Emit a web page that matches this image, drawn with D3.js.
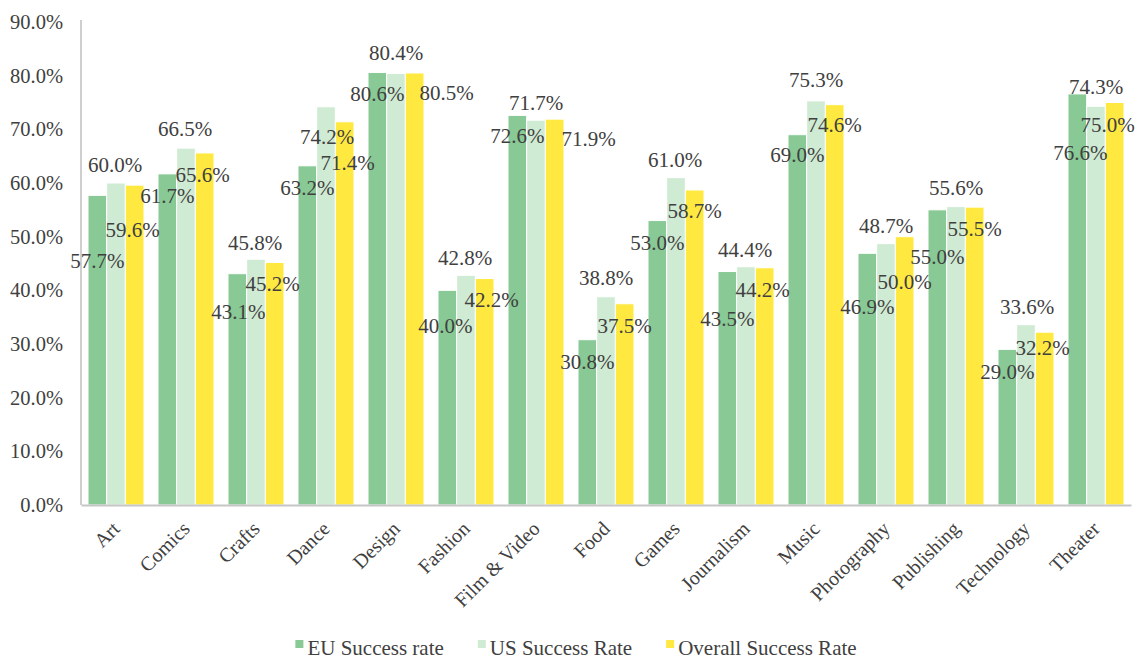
<!DOCTYPE html>
<html>
<head>
<meta charset="utf-8">
<script src="https://cdn.jsdelivr.net/npm/d3@7"></script>
<style>
  html, body { margin: 0; padding: 0; background: #ffffff; }
  svg { display: block; }
</style>
</head>
<body>
<svg id="chart" width="1137" height="659" font-family="'Liberation Serif', Tinos, 'Times New Roman', 'DejaVu Serif', serif"></svg>
<script>
// Success rate by project category
const categories = ["Art", "Comics", "Crafts", "Dance", "Design", "Fashion", "Film & Video",
  "Food", "Games", "Journalism", "Music", "Photography", "Publishing", "Technology", "Theater"];
const euRate      = [57.7, 61.7, 43.1, 63.2, 80.6, 40.0, 72.6, 30.8, 53.0, 43.5, 69.0, 46.9, 55.0, 29.0, 76.6];
const usRate      = [60.0, 66.5, 45.8, 74.2, 80.4, 42.8, 71.7, 38.8, 61.0, 44.4, 75.3, 48.7, 55.6, 33.6, 74.3];
const overallRate = [59.6, 65.6, 45.2, 71.4, 80.5, 42.2, 71.9, 37.5, 58.7, 44.2, 74.6, 50.0, 55.5, 32.2, 75.0];
const seriesNames = ["EU Success rate", "US Success Rate", "Overall Success Rate"];
const yTicks = [0, 10, 20, 30, 40, 50, 60, 70, 80, 90];

// Label placement (pixel offsets of each value label from its bar top / bar centre)
const euLabelDy      = [65, 22, 38, 22, 21, 35, 20, 22, 22, 47, 20, 53, 47, 22, 59];
const usLabelDy      = [-18, -19, -17, 30, -21, -18, -18, -19, -18, -17, -21, -18, -19, -18, -20];
const overallLabelDy = [45, 22, 21, 41, 20, 21, 20, 22, 21, 22, 20, 45, 21, 15, 22];
const euLabelDx      = [0, 0, 1, 0, 0, -2, 0, 0, 0, 0, 0, 0, 0, 0, 3];
const usLabelDx      = [-1, -1, -1, 1, 0, -1, 0, 0, -1, -1, 0, 0, 0, 1, 0];
const overallLabelDx = [-2, -2, -2, 3, 32, 7, 34, 0, 0, -2, 0, 0, 0, -2, -7];

const colors = ["#88c995", "#d0ebd3", "#ffe940"];
const textColor = "#404040";
const fontFamily = "'Liberation Serif', Tinos, 'Times New Roman', 'DejaVu Serif', serif";

const series = [
  { name: seriesNames[0], values: euRate, dx: euLabelDx, dy: euLabelDy },
  { name: seriesNames[1], values: usRate, dx: usLabelDx, dy: usLabelDy },
  { name: seriesNames[2], values: overallRate, dx: overallLabelDx, dy: overallLabelDy }
];

const svg = d3.select("#chart");
const plot = { left: 81, right: 1131, top: 22, bottom: 505 };

const y = d3.scaleLinear().domain([0, 90]).range([plot.bottom, plot.top]);
const x0 = d3.scaleBand().domain(categories).range([plot.left, plot.right])
  .paddingInner(0.2).paddingOuter(0.1);
const x1 = d3.scaleBand().domain(seriesNames).range([0, x0.bandwidth()]);
const color = d3.scaleOrdinal().domain(seriesNames).range(colors);

// Bars
const groups = svg.append("g").selectAll("g")
  .data(categories)
  .join("g")
  .attr("transform", d => `translate(${x0(d)},0)`);

groups.selectAll("rect")
  .data((c, i) => series.map(s => ({ key: s.name, value: s.values[i] })))
  .join("rect")
  .attr("x", d => x1(d.key))
  .attr("width", x1.bandwidth())
  .attr("y", d => y(d.value))
  .attr("height", d => y(0) - y(d.value))
  .attr("fill", d => color(d.key))
  .attr("stroke", "#ffffff")
  .attr("stroke-width", 1);

// Y axis
const yAxis = svg.append("g")
  .attr("transform", `translate(${plot.left},0)`)
  .call(d3.axisLeft(y).tickValues(yTicks).tickSize(0).tickSizeOuter(0).tickPadding(18)
    .tickFormat(d => d.toFixed(1) + "%"));
yAxis.attr("font-family", fontFamily).attr("font-size", null);
yAxis.select(".domain").attr("stroke", "#bfbfbf").attr("stroke-width", 1.5)
  .attr("d", `M0,${plot.bottom}V${plot.top - 2}`);
yAxis.selectAll("text").attr("font-size", "20.5px").attr("fill", textColor);

// X axis
const xAxis = svg.append("g")
  .attr("transform", `translate(0,${plot.bottom})`)
  .call(d3.axisBottom(x0).tickSize(0).tickSizeOuter(0));
xAxis.attr("font-family", fontFamily).attr("font-size", null);
xAxis.select(".domain").attr("stroke", "#c6c6c6").attr("stroke-width", 2);
xAxis.selectAll("text")
  .attr("font-size", "20px")
  .attr("fill", textColor)
  .attr("text-anchor", "end")
  .attr("dy", null)
  .attr("y", 0)
  .attr("transform", "translate(5,25) rotate(-45)");

// Value labels
const labels = svg.append("g").attr("font-family", fontFamily).attr("fill", textColor);
series.forEach(s => {
  labels.selectAll(null)
    .data(categories)
    .join("text")
    .attr("x", (c, i) => x0(c) + x1(s.name) + x1.bandwidth() / 2 + s.dx[i])
    .attr("y", (c, i) => y(s.values[i]) + s.dy[i])
    .attr("dy", "0.35em")
    .attr("text-anchor", "middle")
    .attr("font-size", "21px")
    .text((c, i) => s.values[i].toFixed(1) + "%");
});

// Legend
const legend = svg.append("g")
  .attr("transform", "translate(0,648)")
  .attr("font-family", fontFamily)
  .attr("fill", textColor);
const items = legend.selectAll("g").data(seriesNames).join("g");
items.append("rect")
  .attr("width", 8).attr("height", 8)
  .attr("y", -8)
  .attr("fill", d => color(d));
items.append("text")
  .attr("x", 12)
  .attr("dy", "0.32em")
  .attr("font-size", "21px")
  .text(d => d);
const gap = 34;
const legendCenter = 576;
const widths = items.nodes().map(n => n.getBBox().width);
const total = d3.sum(widths) + gap * (widths.length - 1);
let cursor = legendCenter - total / 2;
items.attr("transform", (d, i) => {
  const t = `translate(${cursor},0)`;
  cursor += widths[i] + gap;
  return t;
});
</script>
</body>
</html>
